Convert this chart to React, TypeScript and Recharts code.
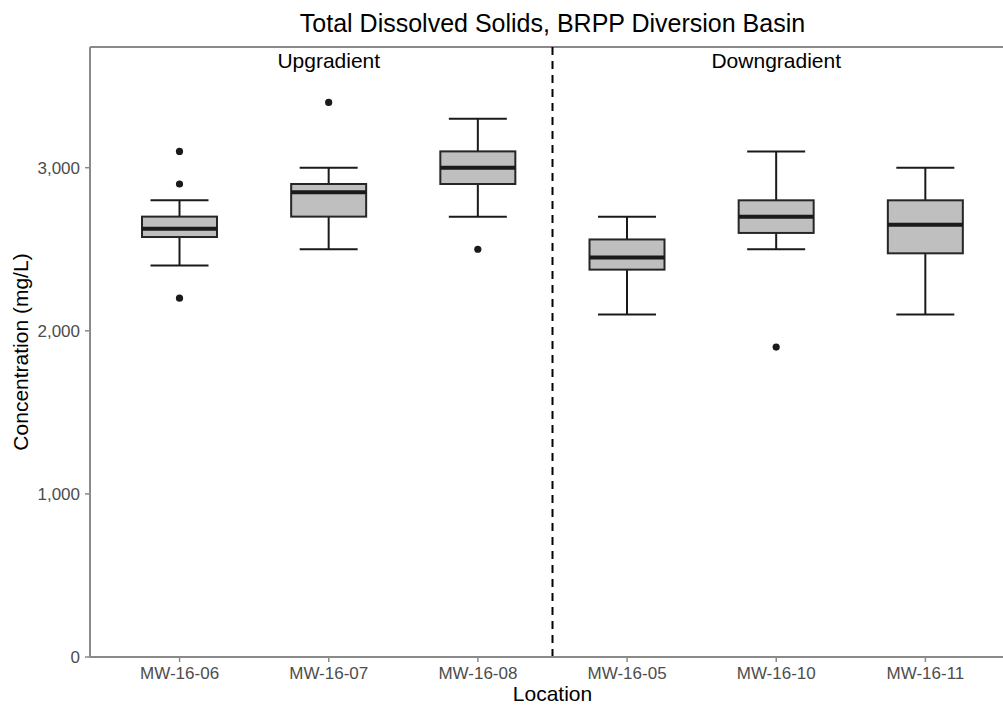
import React from 'react';
import { ComposedChart, Bar, XAxis, YAxis, ReferenceLine } from 'recharts';

const CATEGORIES = ['MW-16-06', 'MW-16-07', 'MW-16-08', 'MW-16-05', 'MW-16-10', 'MW-16-11'];
const WHISKER_LOW = [2400, 2500, 2700, 2100, 2500, 2100];
const Q1 = [2575, 2700, 2900, 2375, 2600, 2475];
const MEDIAN = [2625, 2850, 3000, 2450, 2700, 2650];
const Q3 = [2700, 2900, 3100, 2560, 2800, 2800];
const WHISKER_HIGH = [2800, 3000, 3300, 2700, 3100, 3000];
const OUTLIERS = [[2200, 2900, 3100], [3400], [2500], [], [1900], []];
const Y_TICKS = [0, 1000, 2000, 3000];
const Y_MAX = 3740;

const FONT = '"Liberation Sans", Arial, sans-serif';
const AXIS_GREY = '#8a8a8a';

const data = CATEGORIES.map((name, i) => ({
  name,
  lo: WHISKER_LOW[i],
  q1: Q1[i],
  med: MEDIAN[i],
  q3: Q3[i],
  hi: WHISKER_HIGH[i],
  outliers: OUTLIERS[i],
}));

// the bar runs from 0 up to the upper whisker, so its y/height give the linear scale
const BoxShape = (props: any) => {
  const { x, y, width, height, payload } = props;
  const toPx = (v: number) => y + height * (1 - v / payload.hi);
  const cx = x + width / 2;
  const cap = 29;
  const ink = '#1a1a1a';
  return (
    <g>
      <line x1={cx} x2={cx} y1={toPx(payload.hi)} y2={toPx(payload.q3)} stroke={ink} strokeWidth={2} />
      <line x1={cx} x2={cx} y1={toPx(payload.q1)} y2={toPx(payload.lo)} stroke={ink} strokeWidth={2} />
      <line x1={cx - cap} x2={cx + cap} y1={toPx(payload.hi)} y2={toPx(payload.hi)} stroke={ink} strokeWidth={2} />
      <line x1={cx - cap} x2={cx + cap} y1={toPx(payload.lo)} y2={toPx(payload.lo)} stroke={ink} strokeWidth={2} />
      <rect
        x={x}
        y={toPx(payload.q3)}
        width={width}
        height={toPx(payload.q1) - toPx(payload.q3)}
        fill="#bfbfbf"
        stroke="#262626"
        strokeWidth={2}
      />
      <line x1={x} x2={x + width} y1={toPx(payload.med)} y2={toPx(payload.med)} stroke={ink} strokeWidth={4} />
      {payload.outliers.map((v: number, k: number) => (
        <circle key={k} cx={cx} cy={toPx(v)} r={3.6} fill={ink} />
      ))}
    </g>
  );
};

const YTitle = (props: any) => {
  const { viewBox } = props;
  const cx = viewBox.x + 28;
  const cy = viewBox.y + viewBox.height / 2;
  return (
    <text
      x={cx}
      y={cy}
      transform={`rotate(-90, ${cx}, ${cy})`}
      textAnchor="middle"
      fontFamily={FONT}
      fontSize={21}
      fill="#000"
    >
      Concentration (mg/L)
    </text>
  );
};

const App = () => {
  return (
    <div style={{ position: 'absolute', left: 0, top: 0, width: 1003, height: 707, overflow: 'hidden', background: '#fff' }}>
      <div
        style={{
          position: 'absolute',
          left: 90,
          width: 925,
          top: 11,
          textAlign: 'center',
          fontFamily: FONT,
          fontSize: 25,
          lineHeight: '25px',
          color: '#000',
        }}
      >
        Total Dissolved Solids, BRPP Diversion Basin
      </div>
      <ComposedChart
        width={1020}
        height={707}
        data={data}
        margin={{ top: 47, right: 5, bottom: 0, left: 0 }}
        style={{ position: 'absolute', left: 0, top: 0 }}
      >
        <XAxis
          dataKey="name"
          height={50}
          padding={{ left: 15, right: 15 }}
          axisLine={{ stroke: AXIS_GREY, strokeWidth: 2 }}
          tickLine={{ stroke: AXIS_GREY, strokeWidth: 1.5 }}
          tickSize={5}
          tickMargin={5}
          tick={{ fill: '#4d4d4d', fontSize: 17, fontFamily: FONT }}
          interval={0}
          label={{ value: 'Location', position: 'insideBottom', offset: 6, fill: '#000', fontSize: 21, fontFamily: FONT }}
        />
        <YAxis
          width={90}
          domain={[0, Y_MAX]}
          ticks={Y_TICKS}
          allowDataOverflow
          axisLine={{ stroke: AXIS_GREY, strokeWidth: 2 }}
          tickLine={{ stroke: AXIS_GREY, strokeWidth: 1.5 }}
          tickSize={5}
          tickMargin={5}
          tick={{ fill: '#4d4d4d', fontSize: 17, fontFamily: FONT }}
          tickFormatter={(v: number) => v.toLocaleString('en-US')}
          label={{ content: YTitle }}
        />
        <ReferenceLine y={Y_MAX} stroke={AXIS_GREY} strokeWidth={2} />
        <ReferenceLine x="MW-16-05" position="start" stroke="#000" strokeWidth={2} strokeDasharray="8 6" />
        <ReferenceLine
          x="MW-16-07"
          stroke="none"
          label={{ value: 'Upgradient', position: 'insideTop', offset: 6, fill: '#000', fontSize: 21, fontFamily: FONT }}
        />
        <ReferenceLine
          x="MW-16-10"
          stroke="none"
          label={{ value: 'Downgradient', position: 'insideTop', offset: 6, fill: '#000', fontSize: 21, fontFamily: FONT }}
        />
        <Bar dataKey="hi" barSize={75} shape={BoxShape} isAnimationActive={false} />
      </ComposedChart>
    </div>
  );
};

export default App;
